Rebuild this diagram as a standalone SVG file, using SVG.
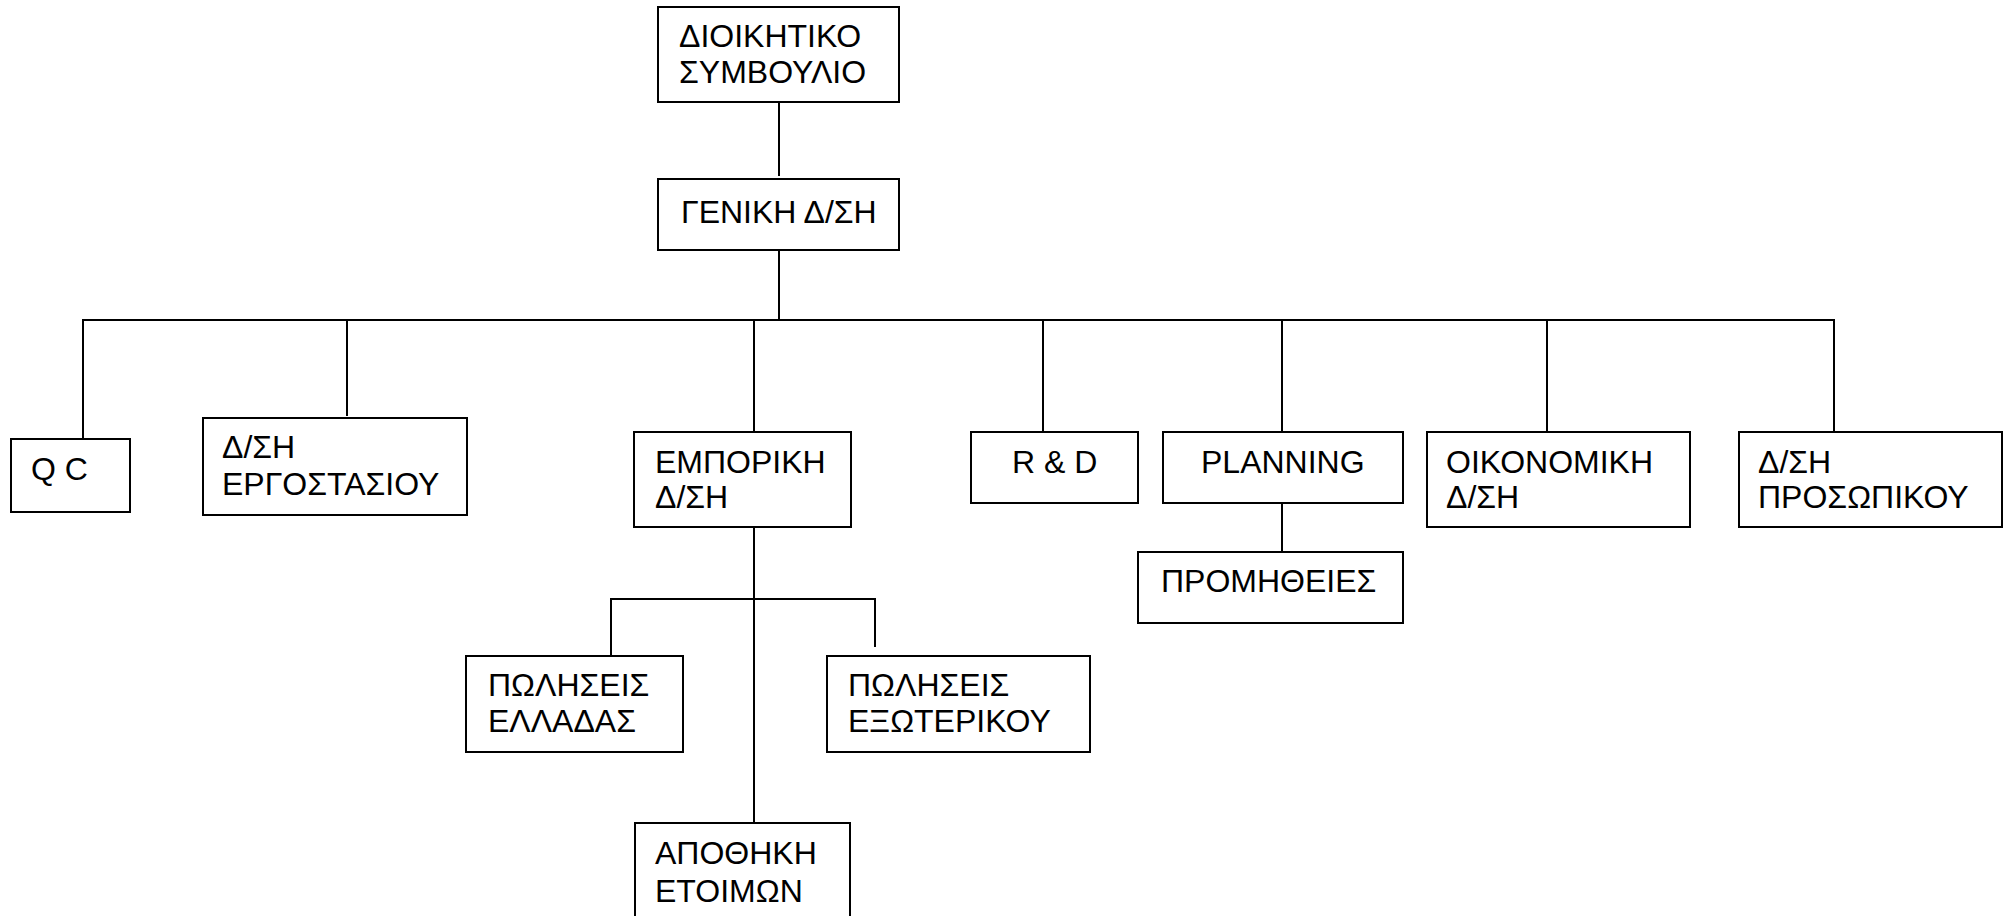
<svg xmlns="http://www.w3.org/2000/svg" width="2008" height="916" viewBox="0 0 2008 916">
<style>
.box{fill:#fff;stroke:#000;stroke-width:2}
.ln{stroke:#000;stroke-width:2;fill:none}
text{font-family:"Liberation Sans",Arial,sans-serif;font-size:32px;fill:#000}
</style>
<rect width="2008" height="916" fill="#fff"/>
<g id="connectors">
<line class="ln" x1="779" y1="102" x2="779" y2="176"/>
<line class="ln" x1="779" y1="247" x2="779" y2="320"/>
<line class="ln" x1="82" y1="320" x2="1835" y2="320"/>
<line class="ln" x1="83" y1="320" x2="83" y2="439"/>
<line class="ln" x1="347" y1="320" x2="347" y2="416"/>
<line class="ln" x1="754" y1="320" x2="754" y2="432"/>
<line class="ln" x1="1043" y1="320" x2="1043" y2="432"/>
<line class="ln" x1="1282" y1="320" x2="1282" y2="432"/>
<line class="ln" x1="1547" y1="320" x2="1547" y2="432"/>
<line class="ln" x1="1834" y1="320" x2="1834" y2="432"/>
<line class="ln" x1="1282" y1="503" x2="1282" y2="552"/>
<line class="ln" x1="754" y1="527" x2="754" y2="823"/>
<polyline class="ln" points="611,656 611,599 875,599 875,647"/>
</g>
<g id="n-dioikitiko"><rect class="box" x="658" y="7" width="241" height="95"/><text x="679" y="47">ΔΙΟΙΚΗΤΙΚΟ</text><text x="679" y="83">ΣΥΜΒΟΥΛΙΟ</text></g>
<g id="n-geniki"><rect class="box" x="658" y="179" width="241" height="71"/><text x="681" y="223">ΓΕΝΙΚΗ Δ/ΣΗ</text></g>
<g id="n-qc"><rect class="box" x="11" y="439" width="119" height="73"/><text x="31" y="480">Q C</text></g>
<g id="n-ergostasiou"><rect class="box" x="203" y="418" width="264" height="97"/><text x="222" y="458">Δ/ΣΗ</text><text x="222" y="495">ΕΡΓΟΣΤΑΣΙΟΥ</text></g>
<g id="n-emporiki"><rect class="box" x="634" y="432" width="217" height="95"/><text x="655" y="473">ΕΜΠΟΡΙΚΗ</text><text x="655" y="508">Δ/ΣΗ</text></g>
<g id="n-rd"><rect class="box" x="971" y="432" width="167" height="71"/><text x="1012" y="473">R &amp; D</text></g>
<g id="n-planning"><rect class="box" x="1163" y="432" width="240" height="71"/><text x="1201" y="473">PLANNING</text></g>
<g id="n-promitheies"><rect class="box" x="1138" y="552" width="265" height="71"/><text x="1161" y="592">ΠΡΟΜΗΘΕΙΕΣ</text></g>
<g id="n-oikonomiki"><rect class="box" x="1427" y="432" width="263" height="95"/><text x="1446" y="473">ΟΙΚΟΝΟΜΙΚΗ</text><text x="1446" y="508">Δ/ΣΗ</text></g>
<g id="n-prosopikou"><rect class="box" x="1739" y="432" width="263" height="95"/><text x="1758" y="473">Δ/ΣΗ</text><text x="1758" y="508">ΠΡΟΣΩΠΙΚΟΥ</text></g>
<g id="n-ellados"><rect class="box" x="466" y="656" width="217" height="96"/><text x="488" y="696">ΠΩΛΗΣΕΙΣ</text><text x="488" y="732">ΕΛΛΑΔΑΣ</text></g>
<g id="n-exoterikou"><rect class="box" x="827" y="656" width="263" height="96"/><text x="848" y="696">ΠΩΛΗΣΕΙΣ</text><text x="848" y="732">ΕΞΩΤΕΡΙΚΟΥ</text></g>
<g id="n-apothiki"><rect class="box" x="635" y="823" width="215" height="110"/><text x="655" y="864">ΑΠΟΘΗΚΗ</text><text x="655" y="902">ΕΤΟΙΜΩΝ</text></g>
</svg>
